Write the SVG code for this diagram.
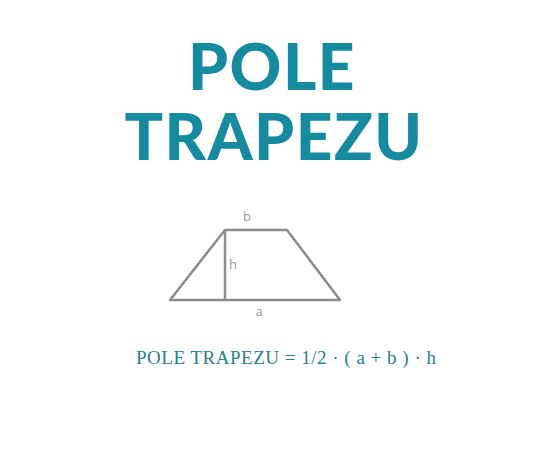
<svg xmlns="http://www.w3.org/2000/svg" width="546" height="457" viewBox="0 0 546 457">
<style>
.title{font-family:"Lato","DejaVu Sans",sans-serif;font-weight:900;font-size:64px;fill:#168b9f;letter-spacing:1.5px;text-anchor:middle}
.lbl{font-family:"Open Sans","DejaVu Sans",sans-serif;font-size:13px;fill:#999;text-anchor:middle}
.shape{fill:none;stroke:#8c8c8c;stroke-width:2.5;stroke-linejoin:round}
.formula{font-family:"Liberation Serif",serif;font-size:19px;fill:#2a7f88}
</style>
<rect width="546" height="457" fill="#fff"/>
<g id="title">
<text class="title" x="272" y="90">POLE</text>
<text class="title" x="274" y="160">TRAPEZU</text>
</g>
<g id="trapezoid">
<polygon class="shape" points="170,300 225,230 287,230 340,300"/>
<line class="shape" x1="225" y1="230" x2="225" y2="300"/>
<text class="lbl" x="247" y="221">b</text>
<text class="lbl" x="233" y="269">h</text>
<text class="lbl" x="259" y="316">a</text>
</g>
<g id="formula">
<text class="formula" x="136" y="364" textLength="300" lengthAdjust="spacing">POLE TRAPEZU = 1/2 · ( a + b ) · h</text>
</g>
</svg>
